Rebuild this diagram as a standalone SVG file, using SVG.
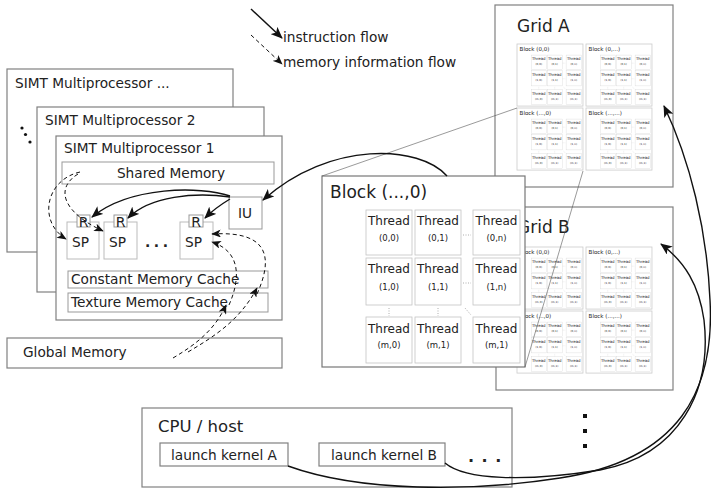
<svg xmlns="http://www.w3.org/2000/svg" xmlns:xlink="http://www.w3.org/1999/xlink" width="711" height="496" viewBox="0 0 711 496">
<style>
text{font-family:"DejaVu Sans","Liberation Sans",sans-serif;fill:#222}
.box{fill:#fff;stroke:#808080;stroke-width:1.2}
.lbox{fill:#fff;stroke:#999;stroke-width:1}
.sp{fill:#fff;stroke:#bbb;stroke-width:1}
.t14{font-size:13.7px}
.rl{font-size:14px;text-anchor:middle}
.tr{fill:#fff;stroke:#c4c4c4;stroke-width:0.8}
.tt{font-size:12px;text-anchor:middle}
.tc{font-size:8.5px;text-anchor:middle}
.dot{stroke:#999;stroke-width:0.8;stroke-dasharray:1,1.5;fill:none}
.mblk{fill:#fff;stroke:#ccc;stroke-width:2.5}
.bblk{fill:#fff;stroke:#777;stroke-width:1.2}
.bt{font-size:17px}
.sol{fill:none;stroke:#111;stroke-width:1.4;marker-end:url(#ah)}
.dsh{fill:none;stroke:#111;stroke-width:1;stroke-dasharray:4,3;marker-end:url(#ahs)}
.zl{fill:none;stroke:#555;stroke-width:0.6}
</style>
<defs>
<marker id="ah" viewBox="0 0 12 10" refX="11" refY="5" markerWidth="12" markerHeight="10" markerUnits="userSpaceOnUse" orient="auto">
<path d="M0,0 L12,5 L0,10 L3,5 Z" fill="#111"/>
</marker>
<marker id="ahs" viewBox="0 0 12 10" refX="11" refY="5" markerWidth="10" markerHeight="8" markerUnits="userSpaceOnUse" orient="auto">
<path d="M0,0 L12,5 L0,10 L3,5 Z" fill="#111"/>
</marker>
<g id="tg">
<rect class="tr" x="44" y="34" width="46" height="45"/>
<rect class="tr" x="93" y="34" width="46" height="45"/>
<rect class="tr" x="151" y="34" width="47" height="45"/>
<rect class="tr" x="44" y="82" width="46" height="47"/>
<rect class="tr" x="93" y="82" width="46" height="47"/>
<rect class="tr" x="151" y="82" width="47" height="47"/>
<rect class="tr" x="44" y="141" width="46" height="46"/>
<rect class="tr" x="93" y="141" width="46" height="46"/>
<rect class="tr" x="151" y="141" width="47" height="46"/>
<text class="tt" x="67" y="49">Thread</text><text class="tc" x="67" y="65">(0,0)</text>
<text class="tt" x="116" y="49">Thread</text><text class="tc" x="116" y="65">(0,1)</text>
<text class="tt" x="174.5" y="49">Thread</text><text class="tc" x="174.5" y="65">(0,n)</text>
<text class="tt" x="67" y="97">Thread</text><text class="tc" x="67" y="114">(1,0)</text>
<text class="tt" x="116" y="97">Thread</text><text class="tc" x="116" y="114">(1,1)</text>
<text class="tt" x="174.5" y="97">Thread</text><text class="tc" x="174.5" y="114">(1,n)</text>
<text class="tt" x="67" y="157">Thread</text><text class="tc" x="67" y="172">(m,0)</text>
<text class="tt" x="116" y="157">Thread</text><text class="tc" x="116" y="172">(m,1)</text>
<text class="tt" x="174.5" y="157">Thread</text><text class="tc" x="174.5" y="172">(m,1)</text>
<path class="dot" d="M141,59 H149 M141,107 H149 M67,132 V140 M116,132 V140 M143,132 L149,139"/>
</g>
</defs>

<g id="legend">
<path class="sol" d="M251,9 L282,38"/>
<path class="dsh" d="M251,35 L282,64"/>
<text class="t14" x="283" y="42">instruction flow</text>
<text class="t14" x="283" y="67">memory information flow</text>
</g>

<g id="sm-more">
<rect class="box" x="7" y="69" width="226" height="183"/>
<text class="t14" x="15" y="88">SIMT Multiprocessor ...</text>
<circle cx="22" cy="128" r="1.6" fill="#111"/>
<circle cx="25.5" cy="134.5" r="1.6" fill="#111"/>
<circle cx="30" cy="142" r="1.6" fill="#111"/>
</g>
<g id="sm2">
<rect class="box" x="37" y="107" width="227" height="185"/>
<text class="t14" x="45" y="125">SIMT Multiprocessor 2</text>
</g>
<g id="sm1">
<rect class="box" x="56" y="136" width="226" height="184"/>
<text class="t14" x="64" y="153">SIMT Multiprocessor 1</text>
</g>
<g id="shared-memory">
<rect class="lbox" x="62" y="162" width="212" height="22"/>
<text class="t14" x="171" y="178" text-anchor="middle">Shared Memory</text>
</g>
<g id="iu">
<rect class="lbox" x="229" y="197" width="33" height="32"/>
<text class="t14" x="238" y="218">IU</text>
</g>
<g id="sp1">
<rect class="sp" x="67" y="222" width="32" height="37"/>
<rect class="lbox" x="77" y="215" width="13" height="12"/>
<text class="rl" x="83.5" y="226.5">R</text>
<text class="t14" x="72" y="247">SP</text>
</g>
<g id="sp2">
<rect class="sp" x="104" y="222" width="33" height="37"/>
<rect class="lbox" x="114" y="215" width="13" height="12"/>
<text class="rl" x="120.5" y="226.5">R</text>
<text class="t14" x="109" y="247">SP</text>
</g>
<text x="145" y="247" font-size="14" font-weight="bold" letter-spacing="3.5">...</text>
<g id="sp3">
<rect class="sp" x="180" y="222" width="33" height="37"/>
<rect class="lbox" x="189" y="215" width="14" height="12"/>
<text class="rl" x="196" y="226.5">R</text>
<text class="t14" x="185" y="247">SP</text>
</g>
<g id="constant-cache">
<rect class="lbox" x="68" y="271" width="200" height="17"/>
<text class="t14" x="71" y="284">Constant Memory Cache</text>
</g>
<g id="texture-cache">
<rect class="lbox" x="68" y="293" width="200" height="19"/>
<text class="t14" x="71" y="307">Texture Memory Cache</text>
</g>
<g id="global-memory">
<rect class="box" x="7" y="338" width="275" height="30"/>
<text class="t14" x="23" y="357">Global Memory</text>
</g>

<g id="grid-a">
<rect class="box" x="495" y="5" width="178" height="182"/>
<text x="517" y="32" font-size="17">Grid A</text>
<g transform="translate(517,44) scale(0.325)"><rect class="mblk" width="203" height="191"/><text class="bt" x="8" y="22">Block (0,0)</text><use xlink:href="#tg"/></g>
<g transform="translate(586,44) scale(0.325)"><rect class="mblk" width="203" height="191"/><text class="bt" x="8" y="22">Block (0,...)</text><use xlink:href="#tg"/></g>
<g transform="translate(517,108) scale(0.325)"><rect class="mblk" width="203" height="191"/><text class="bt" x="8" y="22">Block (...,0)</text><use xlink:href="#tg"/></g>
<g transform="translate(586,108) scale(0.325)"><rect class="mblk" width="203" height="191"/><text class="bt" x="8" y="22">Block (...,...)</text><use xlink:href="#tg"/></g>
</g>
<g id="grid-b">
<rect class="box" x="496" y="207" width="177" height="183"/>
<text x="517" y="233" font-size="17">Grid B</text>
<g transform="translate(517,247) scale(0.325)"><rect class="mblk" width="203" height="191"/><text class="bt" x="8" y="22">Block (0,0)</text><use xlink:href="#tg"/></g>
<g transform="translate(586,247) scale(0.325)"><rect class="mblk" width="203" height="191"/><text class="bt" x="8" y="22">Block (0,...)</text><use xlink:href="#tg"/></g>
<g transform="translate(517,311) scale(0.325)"><rect class="mblk" width="203" height="191"/><text class="bt" x="8" y="22">Block (...,0)</text><use xlink:href="#tg"/></g>
<g transform="translate(586,311) scale(0.325)"><rect class="mblk" width="203" height="191"/><text class="bt" x="8" y="22">Block (...,...)</text><use xlink:href="#tg"/></g>
</g>

<g id="block-detail">
<g transform="translate(322,176)"><rect class="bblk" width="203" height="191"/><text class="bt" x="8" y="22">Block (...,0)</text><use xlink:href="#tg"/></g>
</g>

<g id="cpu-host">
<rect class="box" x="142" y="408" width="370" height="79"/>
<text x="158" y="432" font-size="16.5">CPU / host</text>
</g>
<g id="launch-a">
<rect class="box" x="160" y="443" width="128" height="23"/>
<text class="t14" x="171" y="460">launch kernel A</text>
</g>
<g id="launch-b">
<rect class="box" x="319" y="443" width="126" height="23"/>
<text class="t14" x="331" y="460">launch kernel B</text>
</g>
<text x="468" y="462" font-size="16" font-weight="bold" letter-spacing="7.5">...</text>
<g id="vdots" fill="#111">
<rect x="583" y="414" width="4" height="4"/>
<rect x="583" y="429" width="4" height="4"/>
<rect x="583" y="444" width="4" height="4"/>
</g>

<g id="connectors">
<path class="zl" d="M322,176 L517,108"/>
<path class="zl" d="M583,171 L525,367"/>
<path class="sol" d="M447,176 C420,145 330,140 263,200"/>
<path class="sol" d="M230,196 C200,186 130,186 92,217"/>
<path class="sol" d="M230,197 C195,192 150,196 128,218"/>
<path class="sol" d="M230,199 C220,205 212,211 205,218"/>
<path class="dsh" d="M80,172 C45,180 38,222 66,239"/>
<path class="dsh" d="M78,174 C55,188 62,212 103,231"/>
<path class="dsh" d="M173,358 C195,345 215,330 226,305"/>
<path class="dsh" d="M188,352 C215,336 240,320 257,288"/>
<path class="dsh" d="M229,305 C240,280 242,252 212,242"/>
<path class="dsh" d="M257,294 C270,265 276,230 212,234"/>
<path class="sol" d="M288,466 C360,492 470,492 560,478 C680,460 715,390 710,300 C707,230 690,160 664,106"/>
<path class="sol" d="M445,463 C465,480 525,482 600,470 C680,455 712,390 704,320 C699,285 685,262 661,244"/>
</g>
</svg>
